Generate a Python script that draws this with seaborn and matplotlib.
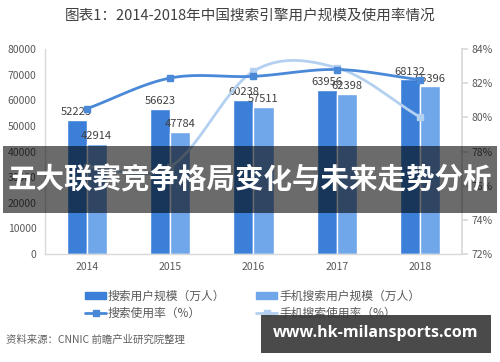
import numpy as np
import pandas as pd
import matplotlib
matplotlib.use("Agg")
import matplotlib.pyplot as plt
import seaborn as sns
from matplotlib.patches import Rectangle, Patch
from matplotlib.lines import Line2D

sns.set_theme(style="white")
plt.rcParams['font.family'] = ['Noto Sans CJK SC', 'DejaVu Sans']

years = ["2014", "2015", "2016", "2017", "2018"]
search_users = [52223, 56623, 60238, 63956, 68132]
mobile_users = [42914, 47784, 57511, 62398, 65396]
search_rate = [80.5, 82.3, 82.4, 82.8, 82.2]
mobile_rate = [77.1, 77.1, 82.7, 82.9, 80.0]
bar_labels_1 = ["52223", "56623", "60238", "63956", "68132"]
bar_labels_2 = ["42914", "47784", "57511", "62398", "65396"]
s1 = "搜索用户规模（万人）"
s2 = "手机搜索用户规模（万人）"
l1 = "搜索使用率（%）"
l2 = "手机搜索使用率（%）"
title = "图表1：2014-2018年中国搜索引擎用户规模及使用率情况"
overlay = "五大联赛竞争格局变化与未来走势分析"
source = "资料来源：CNNIC 前瞻产业研究院整理"
watermark = "www.hk-milansports.com"

c_dark = "#3b7fd8"
c_light = "#70a6ea"
c_line1 = "#4a88d8"
c_line2 = "#b3d0f0"
grey_txt = "#595959"
spine_c = "#d9d9d9"

df = pd.DataFrame({
    "year": years * 2,
    "value": search_users + mobile_users,
    "series": [s1] * 5 + [s2] * 5,
})

fig = plt.figure(figsize=(5.0, 3.62), dpi=100)
ax = fig.add_axes([0.09, 0.2983, 0.834, 0.5663])
sns.barplot(data=df, x="year", y="value", hue="series", palette=[c_dark, c_light],
            width=0.48, gap=0, ax=ax, legend=False, saturation=1)
ax.set_ylim(0, 80000)
ax.set_yticks(np.arange(0, 80001, 10000))
ax.set_xlim(-0.5, 4.5)
ax.set_xlabel("")
ax.set_ylabel("")
ax.tick_params(axis="both", labelsize=7.5, colors=grey_txt, length=0, pad=6)
for sp in ["top", "right"]:
    ax.spines[sp].set_visible(False)
for sp in ["left", "bottom"]:
    ax.spines[sp].set_color(spine_c)
    ax.spines[sp].set_linewidth(1)

for cont, labs in zip(ax.containers, [bar_labels_1, bar_labels_2]):
    ax.bar_label(cont, labels=labs, padding=2, fontsize=8, color="#404040")

ax2 = ax.twinx()
ax2.set_ylim(72, 84)
ax2.set_yticks(np.arange(72, 84.1, 2))
ax2.set_yticklabels([f"{int(v)}%" for v in np.arange(72, 84.1, 2)])
ax2.tick_params(axis="y", labelsize=7.5, colors=grey_txt, length=4, pad=3)
ax2.tick_params(axis="y", color=spine_c)
for sp in ["top", "left", "bottom"]:
    ax2.spines[sp].set_visible(False)
ax2.spines["right"].set_color(spine_c)
ax2.grid(False)
ax.grid(False)


def smooth(y, n=30):
    y = np.asarray(y, float)
    x = np.arange(len(y), dtype=float)
    m = np.zeros_like(y)
    m[1:-1] = (y[2:] - y[:-2]) / 2.0
    m[0] = y[1] - y[0]
    m[-1] = y[-1] - y[-2]
    xs, ys = [], []
    for i in range(len(y) - 1):
        t = np.linspace(0, 1, n, endpoint=(i == len(y) - 2))
        h00 = 2 * t**3 - 3 * t**2 + 1
        h10 = t**3 - 2 * t**2 + t
        h01 = -2 * t**3 + 3 * t**2
        h11 = t**3 - t**2
        xs.append(x[i] + t)
        ys.append(h00 * y[i] + h10 * m[i] + h01 * y[i + 1] + h11 * m[i + 1])
    return np.concatenate(xs), np.concatenate(ys)

xs, ys = smooth(mobile_rate)
ax2.plot(xs, ys, color=c_line2, lw=2, zorder=3)
ax2.plot(range(5), mobile_rate, ls="none", marker="s", ms=5, color=c_line2, zorder=4)
xs, ys = smooth(search_rate)
ax2.plot(xs, ys, color=c_line1, lw=2, zorder=3)
ax2.plot(range(5), search_rate, ls="none", marker="s", ms=5, color=c_line1, zorder=4)

fig.text(0.5, 0.958, title, ha="center", va="center", fontsize=10.5, color="#404040")

handles = [Patch(color=c_dark), Line2D([], [], color=c_line1, lw=2, marker="s", ms=4),
           Patch(color=c_light), Line2D([], [], color=c_line2, lw=2, marker="s", ms=4)]
labels = [s1, l1, s2, l2]
fig.legend(handles, labels, ncol=2, loc="center", bbox_to_anchor=(0.505, 0.159),
           frameon=False, fontsize=8.5, labelcolor=grey_txt, columnspacing=2.6,
           handlelength=1.8, handletextpad=0.15, labelspacing=0.35, handleheight=0.5)

fig.text(0.012, 0.062, source, ha="left", va="center", fontsize=7.5,
         color="#606060", style="italic")

# overlay band
fig.patches.append(Rectangle((0.006, 1 - 213 / 362), 0.988, 67 / 362,
                             transform=fig.transFigure, color="black", alpha=0.58,
                             zorder=10, lw=0))
fig.text(0.5, 1 - 180 / 362, overlay, ha="center", va="center", fontsize=20.5,
         fontweight="bold", color="white", zorder=11)

fig.patches.append(Rectangle((261 / 500, 1 - 353 / 362), 230 / 500, 38 / 362,
                             transform=fig.transFigure, color="#3a3a3a", alpha=0.92,
                             zorder=10, lw=0))
fig.text(376 / 500, 1 - 333 / 362, watermark, ha="center", va="center", fontsize=11.5,
         fontweight="bold", color="white", zorder=11, family=["Open Sans", "DejaVu Sans"])

fig.savefig("out.png", dpi=100)
